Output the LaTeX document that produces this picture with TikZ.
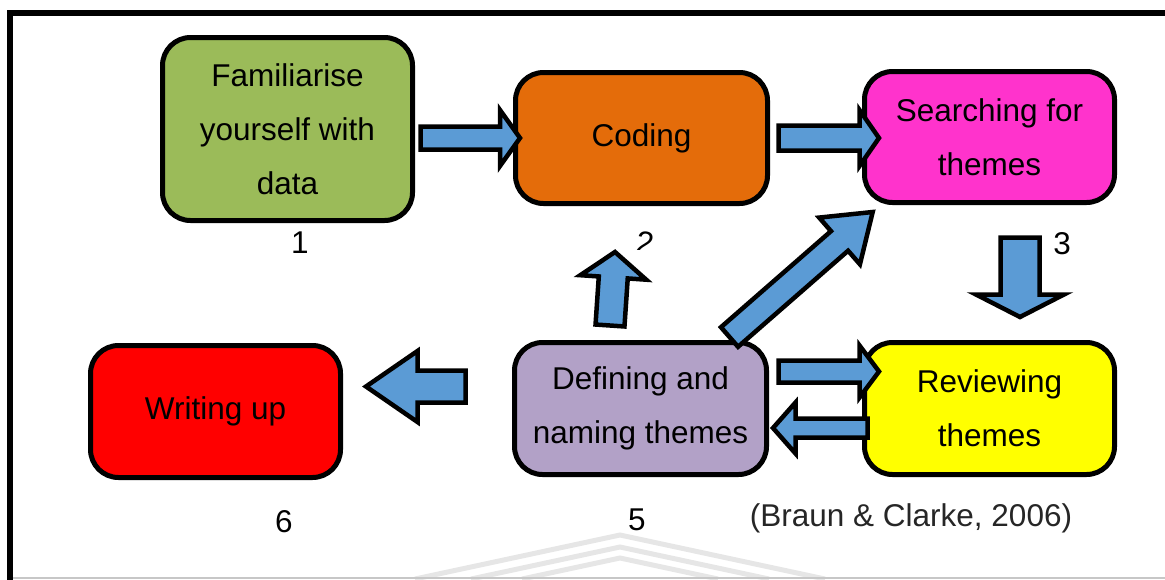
\documentclass[tikz,border=0pt]{standalone}
\usepackage{fontspec}
\setmainfont{Liberation Sans}
\usetikzlibrary{calc}
\definecolor{arrowblue}{HTML}{5B9BD5}
\definecolor{famgreen}{HTML}{9BBB59}
\definecolor{codorange}{HTML}{E46C0A}
\definecolor{srchpink}{HTML}{FF33CC}
\definecolor{defpurple}{HTML}{B2A1C7}
\definecolor{revyellow}{HTML}{FFFF00}
\definecolor{wrired}{HTML}{FF0000}
\definecolor{wmgray}{HTML}{E6E6E6}
% block arrow: #1 tail, #2 tip, #3 shaft half width, #4 head half width, #5 head length
\newcommand{\blockarr}[5]{%
  \coordinate (ba-s) at #1;
  \coordinate (ba-e) at #2;
  \coordinate (ba-b) at ($(ba-e)!#5!(ba-s)$);
  \draw[barrow] ($(ba-s)!#3!90:(ba-e)$) -- ($(ba-b)!#3!90:(ba-e)$) -- ($(ba-b)!#4!90:(ba-e)$)
    -- (ba-e) -- ($(ba-b)!#4!-90:(ba-e)$) -- ($(ba-b)!#3!-90:(ba-e)$) -- ($(ba-s)!#3!-90:(ba-e)$) -- cycle;}
\begin{document}
\begin{tikzpicture}[x=1pt,y=-1pt,
  box/.style={draw=black, line width=5pt, rounded corners=28pt, align=center, inner sep=0pt,
              font=\fontsize{31.5}{54}\selectfont},
  barrow/.style={draw=black, fill=arrowblue, line width=4.5pt, line join=miter},
  lbl/.style={font=\fontsize{31.5}{36}\selectfont, inner sep=0pt},
  wm/.style={draw=wmgray, line width=5pt},
  frame/.style={draw=black, line width=6pt, line join=miter}]
\useasboundingbox (0,0) rectangle (1165,579);
% watermark and frame
\draw[wm] (415,579) -- (620,535) -- (825,579);
\draw[wm] (471,579) -- (620,547) -- (769,579);
\draw[wm] (522,579) -- (620,558) -- (718,579);
\draw[draw=black!22, line width=2pt] (13,577.5) -- (1165,577.5);
\draw[frame] (10,580) -- (10,12.5) -- (1170,12.5);
% boxes
\node[box, fill=famgreen,  minimum width=250pt, minimum height=183pt] (fam)  at (287.5,129)   {Familiarise\\yourself with\\data};
\node[box, fill=codorange, minimum width=252pt, minimum height=131pt] (cod)  at (641.5,138)   {Coding};
\node[box, fill=srchpink,  minimum width=250pt, minimum height=131pt] (srch) at (989.5,137)   {Searching for\\themes};
\node[box, fill=defpurple, minimum width=252pt, minimum height=132pt] (def)  at (640.5,408.5) {Defining and\\naming themes};
\node[box, fill=revyellow, minimum width=250pt, minimum height=132pt] (rev)  at (989.5,408.5) {Reviewing\\themes};
\node[box, fill=wrired,    minimum width=250pt, minimum height=132pt] (wri)  at (215.5,411.5) {Writing up};
% arrows
\blockarr{($(fam.east |- cod.west)+(5.5,0)$)}{($(cod.west)+(7,0)$)}{11.5pt}{28pt}{20pt}
\blockarr{($(cod.east)+(8.5,0)$)}{($(cod.east -| srch.west)+(17,0)$)}{12.5pt}{28pt}{19.5pt}
\blockarr{($(srch.south)+(30.5,32.5)$)}{($(rev.north)+(30.5,-23)$)}{19.5pt}{44pt}{22.5pt}
\blockarr{($(def.north)+(-30.5,-14.5)$)}{($(cod.south)+(-26.5,46)$)}{14.5pt}{33pt}{25.5pt}
\blockarr{($(def.north)+(89,-3)$)}{($(srch.south west)+(10.7,7)$)}{13pt}{31pt}{44pt}
\blockarr{($(def.east)+(9.5,-37)$)}{($(rev.west)+(17,-37)$)}{11pt}{26pt}{19.5pt}
\blockarr{($(rev.west)+(5.5,19.5)$)}{($(def.east)+(4,19.5)$)}{9.5pt}{25.5pt}{22.5pt}
\blockarr{($(def.west)+(-46.5,-22)$)}{($(wri.east)+(23,-25)$)}{16pt}{35.5pt}{51.5pt}
% labels
\node[lbl] (n1) at (300,243) {1};
\begin{scope}
  \clip (620,220) rectangle (680,249.5);
  \node[lbl, rotate=-8] (n2) at (645,243) {2};
\end{scope}
\node[lbl] (n3) at (1062,243.5) {3};
\node[lbl] (n6) at (284,521.5) {6};
\node[lbl] (n5) at (637,520) {5};
\node[lbl, text=black!85] (cite) at (911,518) {(Braun \& Clarke, 2006)};
\end{tikzpicture}
\end{document}
